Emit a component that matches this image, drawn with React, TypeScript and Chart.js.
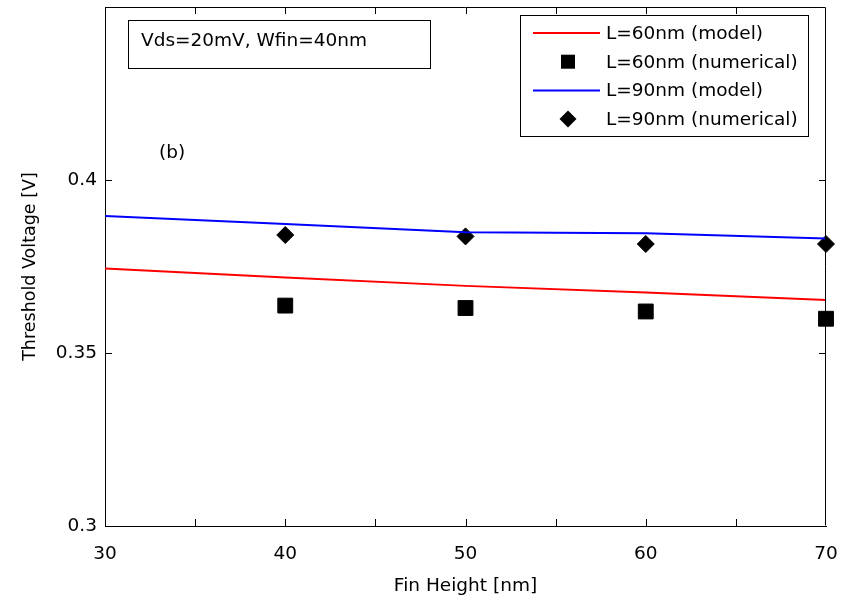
import React, { useEffect, useRef } from 'react';
import { Chart, registerables } from 'chart.js';

Chart.register(...registerables);

// ---- data ----
const modelHeights = [30, 40, 50, 60, 70];
const modelL60 = [0.3744, 0.3718, 0.3694, 0.3675, 0.3653];
const modelL90 = [0.3896, 0.3873, 0.3849, 0.3846, 0.3831];
const numHeights = [40, 50, 60, 70];
const numL60 = [0.3637, 0.363, 0.362, 0.3599];
const numL90 = [0.3841, 0.3837, 0.3815, 0.3815];

const seriesLabels = ['L=60nm (model)', 'L=60nm (numerical)', 'L=90nm (model)', 'L=90nm (numerical)'];
const xTitle = 'Fin Height [nm]';
const yTitle = 'Threshold Voltage [V]';
const noteText = 'Vds=20mV, Wfin=40nm';
const panelText = '(b)';
const xLabeled = [30, 40, 50, 60, 70];
const yLabeled = [0.3, 0.35, 0.4];

const FONT = "'DejaVu Sans', 'Liberation Sans', Arial, sans-serif";
const FS = 18.5;

const toPts = (xs: number[], ys: number[]) => xs.map((x, i) => ({ x, y: ys[i] }));

const decorPlugin = {
  id: 'decor',
  afterDraw(chart: any) {
    const { ctx, chartArea: a, scales } = chart;
    const xs = scales.x;
    const ys = scales.y;
    ctx.save();
    // box
    ctx.strokeStyle = '#000';
    ctx.lineWidth = 1;
    ctx.beginPath();
    ctx.moveTo(a.left + 0.5, a.top + 0.5);
    ctx.lineTo(a.right - 0.5, a.top + 0.5);
    ctx.lineTo(a.right - 0.5, a.bottom - 0.5);
    ctx.stroke();
    // inward ticks
    const TL = 7;
    ctx.beginPath();
    xs.ticks.forEach((t: any) => {
      const px = Math.round(xs.getPixelForValue(t.value)) + 0.5;
      if (px <= a.left + 1 || px >= a.right - 1) return;
      ctx.moveTo(px, a.bottom);
      ctx.lineTo(px, a.bottom - TL);
      ctx.moveTo(px, a.top);
      ctx.lineTo(px, a.top + TL);
    });
    ys.ticks.forEach((t: any) => {
      const py = Math.round(ys.getPixelForValue(t.value)) + 0.5;
      if (py <= a.top + 1 || py >= a.bottom - 1) return;
      ctx.moveTo(a.left, py);
      ctx.lineTo(a.left + TL, py);
      ctx.moveTo(a.right, py);
      ctx.lineTo(a.right - TL, py);
    });
    ctx.stroke();

    // note box
    ctx.font = `${FS}px ${FONT}`;
    ctx.textBaseline = 'middle';
    ctx.textAlign = 'left';
    const nx = a.left + 23;
    const ny = a.top + 13;
    ctx.fillStyle = '#fff';
    ctx.fillRect(nx, ny, 302, 48);
    ctx.strokeRect(nx + 0.5, ny + 0.5, 302, 48);
    ctx.fillStyle = '#000';
    ctx.fillText(noteText, nx + 13, ny + 21);
    ctx.fillText(panelText, a.left + 54, a.top + 146);

    // legend
    const lx = a.right - 306;
    const ly = a.top + 8;
    const lw = 288;
    const lh = 121;
    ctx.fillStyle = '#fff';
    ctx.fillRect(lx, ly, lw, lh);
    ctx.strokeRect(lx + 0.5, ly + 0.5, lw, lh);
    chart.data.datasets.forEach((ds: any, i: number) => {
      const cy = ly + 18 + i * 28.7;
      if (ds.showLine !== false && ds.pointRadius === 0) {
        ctx.strokeStyle = ds.borderColor;
        ctx.lineWidth = 2;
        ctx.beginPath();
        ctx.moveTo(lx + 13, cy);
        ctx.lineTo(lx + 80, cy);
        ctx.stroke();
      } else {
        ctx.fillStyle = '#000';
        if (ds.pointStyle === 'rect') {
          ctx.fillRect(lx + 41, cy - 7, 14, 14);
        } else {
          ctx.beginPath();
          ctx.moveTo(lx + 48, cy - 8.5);
          ctx.lineTo(lx + 56.5, cy);
          ctx.lineTo(lx + 48, cy + 8.5);
          ctx.lineTo(lx + 39.5, cy);
          ctx.closePath();
          ctx.fill();
        }
      }
      ctx.fillStyle = '#000';
      ctx.fillText(ds.label, lx + 86, cy + 1);
    });
    ctx.restore();
  },
};

export default function App() {
  const ref = useRef<HTMLCanvasElement | null>(null);
  useEffect(() => {
    document.body.style.margin = '0';
    const canvas = ref.current!;
    const chart = new Chart(canvas, {
      type: 'scatter',
      data: {
        datasets: [
          {
            label: seriesLabels[0],
            data: toPts(modelHeights, modelL60),
            showLine: true,
            borderColor: '#ff0000',
            backgroundColor: '#ff0000',
            borderWidth: 2,
            pointRadius: 0,
            tension: 0,
          },
          {
            label: seriesLabels[1],
            data: toPts(numHeights, numL60),
            showLine: false,
            pointStyle: 'rect',
            pointRadius: 10.5,
            borderColor: '#000',
            backgroundColor: '#000',
            borderWidth: 1,
            clip: false,
          },
          {
            label: seriesLabels[2],
            data: toPts(modelHeights, modelL90),
            showLine: true,
            borderColor: '#0000ff',
            backgroundColor: '#0000ff',
            borderWidth: 2,
            pointRadius: 0,
            tension: 0,
          },
          {
            label: seriesLabels[3],
            data: toPts(numHeights, numL90),
            showLine: false,
            pointStyle: 'rectRot',
            pointRadius: 8.5,
            borderColor: '#000',
            backgroundColor: '#000',
            borderWidth: 1,
            clip: false,
          },
        ],
      },
      options: {
        responsive: false,
        animation: false,
        devicePixelRatio: 1,
        layout: { autoPadding: false, padding: { top: 7, right: 18, left: 0, bottom: 0 } },
        plugins: { legend: { display: false }, tooltip: { enabled: false } },
        scales: {
          x: {
            type: 'linear',
            min: 30,
            max: 70,
            grid: { display: false, drawTicks: false },
            border: { display: true, color: '#000', width: 1 },
            ticks: {
              stepSize: 5,
              padding: 17,
              color: '#000',
              maxRotation: 0,
              autoSkip: false,
              font: { family: FONT, size: FS },
              callback: (v: any) => (xLabeled.includes(Number(v)) ? String(v) : ''),
            },
            title: {
              display: true,
              text: xTitle,
              color: '#000',
              font: { family: FONT, size: FS },
              padding: { top: 0, bottom: 4 },
            },
            afterFit: (s: any) => {
              s.height = 75;
              s.paddingLeft = 0;
              s.paddingRight = 0;
            },
          },
          y: {
            type: 'linear',
            min: 0.3,
            max: 0.45,
            grid: { display: false, drawTicks: false },
            border: { display: true, color: '#000', width: 1 },
            ticks: {
              stepSize: 0.05,
              padding: 8,
              color: '#000',
              autoSkip: false,
              font: { family: FONT, size: FS, lineHeight: 0.6 },
              callback: (v: any) => {
                const n = Math.round(Number(v) * 1000) / 1000;
                return yLabeled.some((t) => Math.abs(t - n) < 1e-6) ? String(n) : '';
              },
            },
            title: {
              display: true,
              text: yTitle,
              color: '#000',
              font: { family: FONT, size: 17.5 },
              padding: { top: 20, bottom: 0 },
            },
            afterFit: (s: any) => {
              s.width = 105;
              s.paddingTop = 0;
              s.paddingBottom = 0;
            },
          },
        },
      },
      plugins: [decorPlugin],
    });
    return () => chart.destroy();
  }, []);
  return (
    <div style={{ width: 844, height: 601, background: '#fff' }}>
      <canvas ref={ref} width={844} height={601} style={{ display: 'block' }} />
    </div>
  );
}
